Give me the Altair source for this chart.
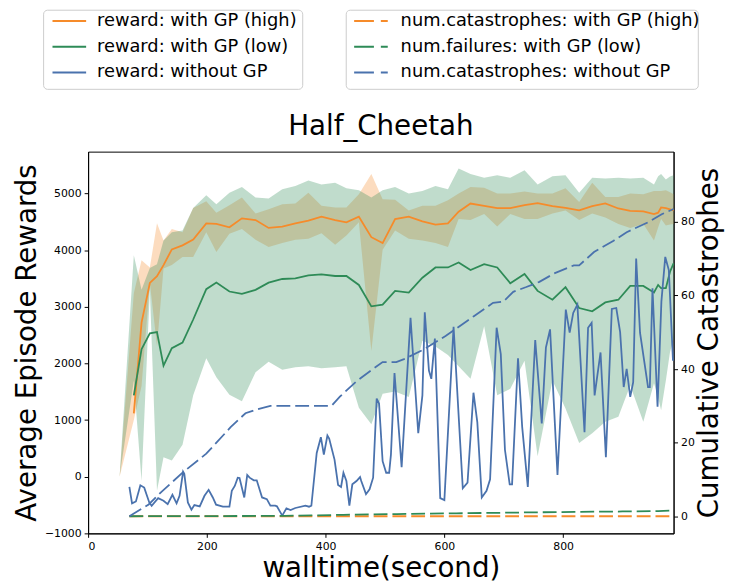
import altair as alt
import pandas as pd

# ---------------- data ----------------
gp_x = [53, 77, 90, 104, 116, 127, 141, 159, 177, 199, 216, 238, 259, 282, 304, 327, 349, 371, 393, 416,
        435, 456, 477, 496, 517, 540, 563, 585, 606, 624, 644, 667, 689, 711, 735, 757, 782, 804, 827, 849,
        871, 893, 913, 935, 953, 960, 965, 973, 980, 986]

high_mean = [None, 1117, 2720, 3420, 3540, 3735, 4013, 4083, 4188, 4472, 4461, 4403, 4560, 4531, 4391, 4415,
             4472, 4519, 4589, 4531, 4490, 4589, 4228, 4124, 4548, 4589, 4507, 4450, 4472, 4677, 4822, 4782,
             4741, 4741, 4793, 4830, 4776, 4747, 4700, 4776, 4823, 4735, 4694, 4683, 4636, 4660, 4753, 4741,
             4720, 4700]
high_upper = [0, 3240, 3820, 3694, 4472, 4170, 4374, 4316, 4741, 4863, 4659, 4793, 4927, 4648, 4723, 4810,
              4822, 5014, 4782, 4753, 4753, 4985, 5345, 4898, 4890, 4700, 4782, 4782, 4880, 4997, 5113, 5101,
              4997, 4997, 5036, 4997, 4997, 5090, 4851, 5188, 4939, 4939, 4997, 4985, 5043, 5043, 5043, 5055,
              5020, 4985]
high_lower = [0, 1000, 1600, 3420, 2309, 3677, 3735, 3880, 3880, 4316, 3968, 4287, 4374, 4182, 4054, 4124,
              4182, 4200, 4298, 4095, 4258, 4490, 2221, 4008, 4345, 4200, 4171, 4124, 4054, 4548, 4530, 4636,
              4415, 4636, 4548, 4548, 4648, 4700, 4531, 4648, 4577, 4461, 4392, 4461, 4171, 4400, 4548, 4433,
              4450, 4461]

low_mean = [None, 1437, 2251, 2530, 2553, 1960, 2268, 2367, 2775, 3310, 3426, 3269, 3228, 3298, 3426, 3490,
            3502, 3554, 3572, 3543, 3543, 3385, 3007, 3036, 3281, 3251, 3513, 3694, 3694, 3781, 3647, 3752,
            3694, 3415, 3577, 3280, 3124, 3345, 2978, 2920, 3077, 3124, 3368, 3368, 3251, 3385, 3327, 3327,
            3618, 3764]
low_upper = [0, 3909, 3300, 3682, 3750, 4170, 4316, 4345, 4741, 4967, 4810, 5014, 5112, 4927, 4910, 5072,
             5130, 5229, 5159, 5188, 5090, 5055, 4927, 5055, 5115, 4997, 5043, 5130, 5072, 5439, 5345, 5275,
             5322, 5275, 5410, 5159, 5305, 5322, 5014, 5275, 5264, 5275, 5264, 5275, 5159, 5305, 5345, 5246,
             5300, 5322]
low_lower = [0, 1700, -75, 3300, -245, 343, 285, 564, 1436, 2089, 1757, 1448, 1332, 1844, 2030, 1890,
             1931, 1949, 1914, 1931, 1949, 1216, 925, 1466, 1506, 1408, 2400, 2300, 2150, 1950, 1728, 2658,
             1436, 1553, 2047, 361, 1700, 1204, 593, 768, 972, 1059, 1611, 972, 1650, 1400, 1175, 1698,
             2200, 2426]

wo_x = [69.5, 74, 80.5, 88, 94.5, 103, 107, 118, 127, 134, 142, 149, 154, 160, 162, 168, 174, 179, 188, 196,
        203, 210, 215.5, 227, 238, 242, 247, 252, 255, 263, 268, 272, 279, 284, 293, 301, 307, 315, 318, 327,
        334, 341, 349, 366, 372, 376, 385, 392, 397, 403, 406, 415, 421, 426, 430, 435, 440, 445, 452, 458,
        460, 468, 474, 480, 486, 490, 496, 502, 507, 510, 516, 521, 528, 543, 556, 563, 567, 574, 578, 584,
        593, 600, 615.5, 631, 639, 649, 655.5, 663, 671, 677, 688, 695, 702, 710, 714, 724, 731, 740.5, 753, 764,
        771, 778, 790.5, 804.5, 811, 817, 824, 836, 842, 848, 853, 863, 872, 882, 889.5, 896, 902, 907, 913, 918,
        923, 929.5, 943, 946, 950.5, 959, 965.5, 972, 978, 985]
wo_y = [-180, -471, -436, -151, -192, -454, -512, -378, -425, -483, -320, -471, -337, 87, 50, -454, -582, -500,
        -523, -337, -232, -366, -494, -529, -529, -250, -163, -17, -23, -366, 30, -17, -64, -64, -366, -396,
        -512, -512, -523, -686, -558, -587, -552, -512, -529, -512, 419, 698, 390, 727, 674, 302, -145, -180,
        70, -76, -512, -134, -76, -6, -76, -308, -221, -17, 1379, 1291, 274, 70, 70, 390, 1830, 1146, 169,
        2804, 768, 1436, 2902, 1873, 1728, 2438, -378, -413, 2647, -204, -105, 1483, 960, -366, -250, -47,
        2630, 2164, 476, -134, -134, 2089, 885, -180, 2414, 942, 2280, 2600, 29, 2949, 2542, 2891, 3036, 785,
        2629, 2717, 1436, 2193, 344, 2961, 2978, 2553, 1583, 1902, 1408, 1670, 3851, 2542, 1583, 1583, 3327,
        1234, 3094, 3880, 3647, 2047]

cat_x = [69.5, 102, 124, 160, 199, 240, 265, 285, 307, 410, 424, 452, 477, 496, 519, 532, 565, 602, 649, 682,
         699, 716, 738, 760, 785, 818, 827, 852, 885, 907, 943, 966, 986]
cat_y = [0, 3.2, 6.7, 12, 17, 24.2, 28, 29.1, 30, 30, 32.5, 36.7, 39.7, 41.9, 41.9, 42.7, 45.3, 49, 54.3, 58,
         58.3, 61, 62.3, 63.7, 66, 68.2, 68.2, 71.8, 74.9, 77.2, 79.9, 82.1, 83.5]

high_cat_x = [69.5, 300, 600, 986]
high_cat_y = [0, 0, 0, 0]
low_fail_x = [69.5, 200, 330, 430, 520, 620, 720, 820, 900, 960, 986]
low_fail_y = [0, 0.05, 0.1, 0.4, 0.6, 0.8, 1.0, 1.2, 1.3, 1.4, 1.6]

reward_names = ["reward: with GP (high)", "reward: with GP (low)", "reward: without GP"]
count_names = ["num.catastrophes: with GP (high)", "num.failures: with GP (low)", "num.catastrophes: without GP"]

x_ticks = [0, 200, 400, 600, 800]
yl_ticks = [-1000, 0, 1000, 2000, 3000, 4000, 5000]
yr_ticks = [0, 20, 40, 60, 80]

ORANGE = "#f68b2a"
GREEN = "#2e8b57"
BLUE = "#4a72ad"
colors = [ORANGE, GREEN, BLUE]
FONT = "DejaVu Sans"

# ---------------- tables ----------------
band_df = pd.DataFrame({"t": gp_x, "hu": high_upper, "hl": high_lower, "lu": low_upper, "ll": low_lower})

rows = []
for x, v in zip(gp_x, high_mean):
    if v is not None:
        rows.append({"t": x, "v": v, "s": reward_names[0]})
for x, v in zip(gp_x, low_mean):
    if v is not None:
        rows.append({"t": x, "v": v, "s": reward_names[1]})
for x, v in zip(wo_x, wo_y):
    rows.append({"t": x, "v": v, "s": reward_names[2]})
rew_df = pd.DataFrame(rows)
rew_df["o"] = range(len(rew_df))

crows = []
for x, v in zip(high_cat_x, high_cat_y):
    crows.append({"t": x, "c": v, "s": count_names[0]})
for x, v in zip(low_fail_x, low_fail_y):
    crows.append({"t": x, "c": v, "s": count_names[1]})
for x, v in zip(cat_x, cat_y):
    crows.append({"t": x, "c": v, "s": count_names[2]})
cnt_df = pd.DataFrame(crows)
cnt_df["o"] = range(len(cnt_df))

# ---------------- scales / axes ----------------
xs = alt.Scale(domain=[0, 986], nice=False, zero=False)
yls = alt.Scale(domain=[-1000, 5738], nice=False, zero=False)
yrs = alt.Scale(domain=[-4.65, 99.1], nice=False, zero=False)

x_axis = alt.Axis(values=x_ticks, format="d", title="walltime(second)", titleX=296, titleY=36,
                  titleAlign="center", titleBaseline="middle", grid=False, labelPadding=3)
yl_axis = alt.Axis(values=yl_ticks, format="d", title="Average Episode Rewards", orient="left",
                   titleX=-61, titleY=193, titleAngle=270, titleAlign="center", titleBaseline="middle",
                   grid=False, labelPadding=3)
yr_axis = alt.Axis(values=yr_ticks, format="d", title="Cumulative Catastrophes", orient="right",
                   titleX=36, titleY=193, titleAngle=270, titleAlign="center", titleBaseline="middle",
                   grid=False, labelPadding=3)

X = alt.X("t:Q", scale=xs, axis=x_axis)

band_high = alt.Chart(band_df).mark_area(color=ORANGE, opacity=0.3).encode(
    x=X, y=alt.Y("hl:Q", scale=yls, axis=yl_axis), y2="hu:Q")
band_low = alt.Chart(band_df).mark_area(color=GREEN, opacity=0.3).encode(
    x=X, y=alt.Y("ll:Q", scale=yls, axis=yl_axis), y2="lu:Q")

reward_lines = alt.Chart(rew_df).mark_line(strokeWidth=1.8).encode(
    x=X,
    y=alt.Y("v:Q", scale=yls, axis=yl_axis),
    color=alt.Color("s:N", scale=alt.Scale(domain=reward_names, range=colors), legend=None),
    order="o:Q",
)

# ---------------- legends and title (decorations) ----------------
deco = []
one = pd.DataFrame({"a": [0]})
boxes = [(-45, 217), (261, 617)]
for bx0, bx1 in boxes:
    deco.append(alt.Chart(one).mark_rect(fill="white", stroke="#cccccc", strokeWidth=1, cornerRadius=4).encode(
        x=alt.value(bx0), x2=alt.value(bx1), y=alt.value(-143), y2=alt.value(-63)))
row_y = [-132, -106, -80]
for i in range(3):
    deco.append(alt.Chart(one).mark_rule(color=colors[i], strokeWidth=2).encode(
        x=alt.value(-36), x2=alt.value(-2), y=alt.value(row_y[i])))
    deco.append(alt.Chart(pd.DataFrame({"lab": [reward_names[i]]})).mark_text(
        align="left", baseline="middle", font=FONT, fontSize=18, color="black").encode(
        text="lab:N", x=alt.value(9), y=alt.value(row_y[i])))
    deco.append(alt.Chart(one).mark_rule(color=colors[i], strokeWidth=2, strokeDash=[20, 7]).encode(
        x=alt.value(269), x2=alt.value(303), y=alt.value(row_y[i])))
    deco.append(alt.Chart(pd.DataFrame({"lab": [count_names[i]]})).mark_text(
        align="left", baseline="middle", font=FONT, fontSize=18, color="black").encode(
        text="lab:N", x=alt.value(316), y=alt.value(row_y[i])))
deco.append(alt.Chart(pd.DataFrame({"lab": ["Half_Cheetah"]})).mark_text(
    align="center", baseline="middle", font=FONT, fontSize=28, color="black").encode(
    text="lab:N", x=alt.value(296), y=alt.value(-25)))

left = alt.layer(band_high, band_low, reward_lines, *deco)

count_lines = alt.Chart(cnt_df).mark_line(strokeWidth=1.8, strokeDash=[14, 5]).encode(
    x=X,
    y=alt.Y("c:Q", scale=yrs, axis=yr_axis),
    color=alt.Color("s:N", scale=alt.Scale(domain=count_names, range=colors), legend=None),
    detail="s:N",
    order="o:Q",
)

chart = alt.layer(left, count_lines).resolve_scale(y="independent", color="independent").properties(
    width=592, height=386,
    autosize=alt.AutoSizeParams(type="none"),
    padding={"left": 81, "top": 142, "right": 52, "bottom": 52},
).configure_view(stroke="black", strokeWidth=1).configure_axis(
    labelFont=FONT, labelFontSize=11, labelColor="black", tickColor="black", tickSize=4,
    domainColor="black", titleFont=FONT, titleFontSize=28, titleFontWeight="normal", titleColor="black",
)

chart.save("out.html", embed_options={"renderer": "svg", "actions": False})
